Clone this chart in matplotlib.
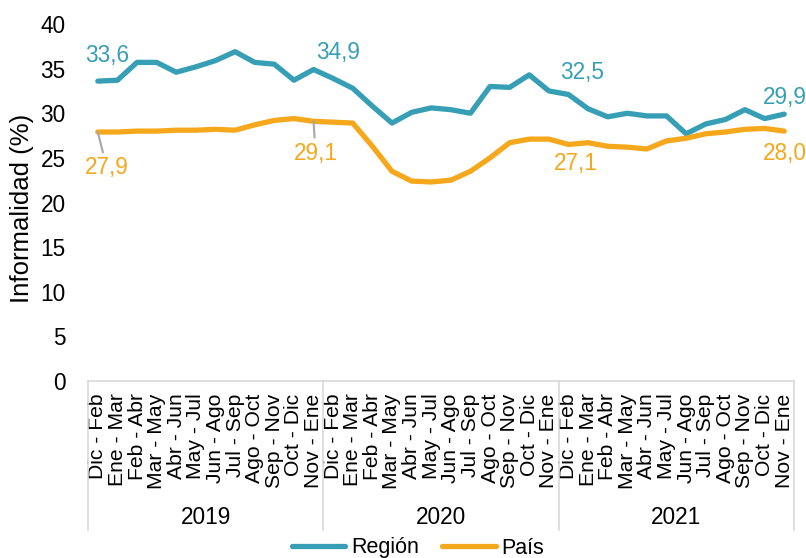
import matplotlib.pyplot as plt
import matplotlib.transforms as mtransforms
from matplotlib.lines import Line2D

plt.rcParams['font.family'] = ['Liberation Sans', 'DejaVu Sans']

years = ['2019', '2020', '2021']
periods = ['Dic - Feb', 'Ene - Mar', 'Feb - Abr', 'Mar - May', 'Abr - Jun', 'May - Jul',
           'Jun - Ago', 'Jul - Sep', 'Ago - Oct', 'Sep - Nov', 'Oct - Dic', 'Nov - Ene']
labels = periods * len(years)

region = [33.6, 33.7, 35.7, 35.7, 34.6, 35.2, 35.9, 36.9, 35.7, 35.5, 33.7, 34.9,
          33.9, 32.8, 30.8, 28.9, 30.1, 30.6, 30.4, 30.0, 33.0, 32.9, 34.3, 32.5,
          32.1, 30.5, 29.6, 30.0, 29.7, 29.7, 27.7, 28.8, 29.3, 30.4, 29.4, 29.9]
pais = [27.9, 27.9, 28.0, 28.0, 28.1, 28.1, 28.2, 28.1, 28.7, 29.2, 29.4, 29.1,
        29.0, 28.9, 26.3, 23.5, 22.4, 22.3, 22.5, 23.5, 25.0, 26.7, 27.1, 27.1,
        26.5, 26.7, 26.3, 26.2, 26.0, 26.9, 27.2, 27.7, 27.9, 28.2, 28.3, 28.0]

# labelled points: (index, text offset in pixels) for each series
region_marks = [(0, (9, 26)), (11, (25, 17)), (23, (33, 18)), (35, (1, 17))]
pais_marks = [(0, (9, -36)), (11, (2, -32)), (23, (27, -24)), (35, (1, -22))]

teal = '#369fb5'
orange = '#f5a81c'
fs = 16.3

fig = plt.figure(figsize=(8.06, 5.58), dpi=100)
ax = fig.add_axes([88 / 806, 1 - 381 / 558, 706 / 806, 357 / 558])

x = list(range(len(labels)))
ax.plot(x, region, color=teal, lw=3.8, solid_capstyle='round', solid_joinstyle='round')
ax.plot(x, pais, color=orange, lw=3.8, solid_capstyle='round', solid_joinstyle='round')

ax.set_xlim(-0.5, len(labels) - 0.5)
ax.set_ylim(0, 40)
ax.set_yticks(range(0, 41, 5))
ax.tick_params(axis='y', length=0, pad=16, labelsize=fs)
ax.set_xticks(x)
ax.set_xticklabels(labels, rotation=90, fontsize=15.2, va='top')
ax.tick_params(axis='x', length=0, pad=9)

for s in ['top', 'right', 'left']:
    ax.spines[s].set_visible(False)
ax.spines['bottom'].set_color('#d9d9d9')
ax.spines['bottom'].set_linewidth(1.2)

trans = mtransforms.blended_transform_factory(ax.transData, ax.transAxes)
for k in range(len(years) + 1):
    ax.plot([k * 12 - 0.5, k * 12 - 0.5], [0, -0.417], transform=trans,
            color='#d9d9d9', lw=1.2, clip_on=False)
for k, yr in enumerate(years):
    ax.text(k * 12 + 5.5, -0.381, yr, transform=trans, ha='center', va='center', fontsize=fs)

for i, off in region_marks:
    ax.annotate(f'{region[i]:.1f}'.replace('.', ','), xy=(i, region[i]), xytext=off,
                textcoords='offset pixels', ha='center', va='center', color=teal, fontsize=fs)
for i, off in pais_marks:
    arrow = dict(arrowstyle='-', color='#a6a6a6', lw=1.5, shrinkA=1, shrinkB=0) if i in (0, 11) else None
    ax.annotate(f'{pais[i]:.1f}'.replace('.', ','), xy=(i, pais[i]), xytext=off,
                textcoords='offset pixels', ha='center', va='center', color=orange, fontsize=fs,
                arrowprops=arrow)

fig.text(22 / 806, 1 - 208 / 558, 'Informalidad (%)', rotation=90, ha='center', va='center', fontsize=18.5)

handles = [Line2D([], [], color=teal, lw=3.8, solid_capstyle='round'),
           Line2D([], [], color=orange, lw=3.8, solid_capstyle='round')]
fig.legend(handles, ['Región', 'País'], loc='center', bbox_to_anchor=(418 / 806, 1 - 548 / 558),
           ncol=2, frameon=False, fontsize=15.5, handlelength=2.5, handletextpad=0.25,
           columnspacing=1.1, borderpad=0)

fig.savefig('out.png', dpi=100)
